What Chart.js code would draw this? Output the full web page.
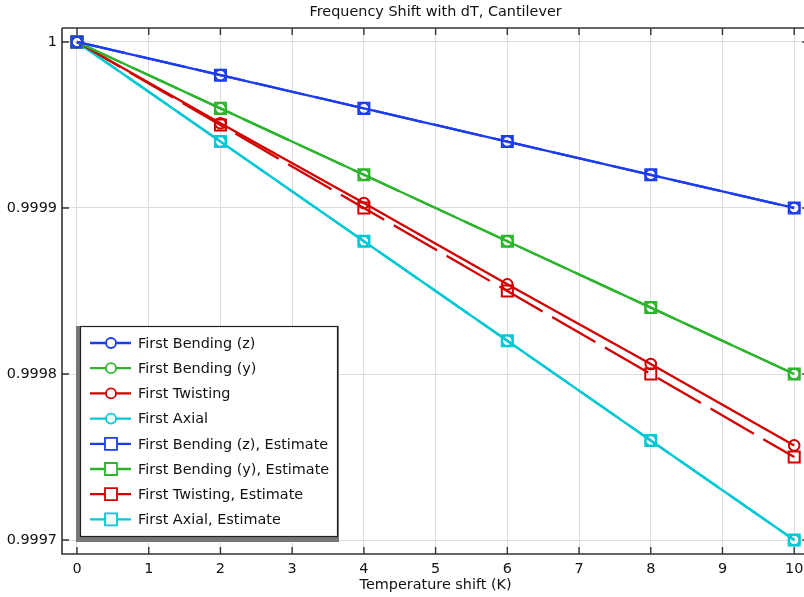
<!DOCTYPE html>
<html lang="en">
<head>
    <meta charset="UTF-8">
    <title>Frequency Shift with dT, Cantilever</title>
    <style>
        html, body {
            margin: 0;
            padding: 0;
            background: #fff;
            overflow: hidden;
        }
        #wrap {
            width: 819px;
            height: 597px;
        }
    </style>
</head>
<body>
    <div id="wrap">
        <canvas id="freqChart" width="819" height="597"></canvas>
    </div>

    <script src="https://cdn.jsdelivr.net/npm/chart.js"></script>
    <script>
        // Data
        const temps = [0, 2, 4, 6, 8, 10];
        const bendZ = [1, 0.99998, 0.99996, 0.99994, 0.99992, 0.9999];
        const bendY = [1, 0.99996, 0.99992, 0.99988, 0.99984, 0.9998];
        const twist = [1, 0.999951, 0.999903, 0.999854, 0.999806, 0.999757];
        const axial = [1, 0.99994, 0.99988, 0.99982, 0.99976, 0.9997];
        const bendZEst = [1, 0.99998, 0.99996, 0.99994, 0.99992, 0.9999];
        const bendYEst = [1, 0.99996, 0.99992, 0.99988, 0.99984, 0.9998];
        const twistEst = [1, 0.99995, 0.9999, 0.99985, 0.9998, 0.99975];
        const axialEst = [1, 0.99994, 0.99988, 0.99982, 0.99976, 0.9997];

        const xTicks = [0, 1, 2, 3, 4, 5, 6, 7, 8, 9, 10];
        const yTicks = [0.9997, 0.9998, 0.9999, 1];
        const yTickLabels = ['0.9997', '0.9998', '0.9999', '1'];

        const BLUE = 'rgb(28,60,242)';
        const GREEN = 'rgb(44,180,44)';
        const RED = 'rgb(210,0,0)';
        const CYAN = 'rgb(0,200,212)';
        const FONT = '"DejaVu Sans", sans-serif';

        function pts(ys) {
            return temps.map((t, i) => ({ x: t, y: ys[i] }));
        }

        function series(label, ys, color, estimate) {
            return {
                label: label,
                data: pts(ys),
                borderColor: color,
                backgroundColor: 'rgba(0,0,0,0)',
                borderWidth: 2.3,
                borderDash: estimate ? [50, 11] : [],
                pointStyle: estimate ? 'rect' : 'circle',
                pointRadius: estimate ? 7.8 : 5.3,
                pointBorderWidth: 2,
                pointBorderColor: color,
                pointBackgroundColor: 'rgba(0,0,0,0)',
                tension: 0
            };
        }

        // frame, inward ticks, title and legend box
        const decorations = {
            id: 'decorations',
            afterDatasetsDraw(chart) {
                const ctx = chart.ctx;
                const a = chart.chartArea;
                const xs = chart.scales.x;
                const ys = chart.scales.y;
                ctx.save();

                ctx.strokeStyle = '#333';
                ctx.lineWidth = 1.6;
                ctx.beginPath();
                ctx.moveTo(a.left, a.top);
                ctx.lineTo(a.right, a.top);
                ctx.moveTo(a.left, a.top);
                ctx.lineTo(a.left, a.bottom);
                ctx.lineTo(a.right, a.bottom);
                ctx.stroke();

                ctx.lineWidth = 1.4;
                ctx.beginPath();
                xTicks.forEach(v => {
                    const px = xs.getPixelForValue(v);
                    ctx.moveTo(px, a.bottom);
                    ctx.lineTo(px, a.bottom - 7);
                    ctx.moveTo(px, a.top);
                    ctx.lineTo(px, a.top + 7);
                });
                yTicks.forEach(v => {
                    const py = ys.getPixelForValue(v);
                    ctx.moveTo(a.left, py);
                    ctx.lineTo(a.left + 7, py);
                    ctx.moveTo(a.right, py);
                    ctx.lineTo(a.right - 7, py);
                });
                ctx.stroke();

                // titles
                ctx.fillStyle = '#111';
                ctx.font = '14.4px ' + FONT;
                ctx.textAlign = 'center';
                ctx.textBaseline = 'middle';
                ctx.fillText('Frequency Shift with dT, Cantilever', (a.left + a.right) / 2, 12);
                ctx.fillText('Temperature shift (K)', (a.left + a.right) / 2, 585);

                // legend
                const lx = 80, ly = 326, lw = 258, lh = 211;
                ctx.fillStyle = '#777';
                ctx.fillRect(lx - 4, ly, lw + 1 + 4, lh + 5);
                ctx.fillStyle = '#fff';
                ctx.fillRect(lx, ly, lw, lh);
                ctx.strokeStyle = '#222';
                ctx.lineWidth = 1.2;
                ctx.strokeRect(lx + 0.5, ly + 0.5, lw - 1, lh - 1);

                ctx.textAlign = 'left';
                chart.data.datasets.forEach((ds, i) => {
                    const cy = 343 + i * 25.2;
                    ctx.strokeStyle = ds.borderColor;
                    ctx.lineWidth = 2.3;
                    ctx.beginPath();
                    ctx.moveTo(90, cy);
                    ctx.lineTo(131, cy);
                    ctx.stroke();
                    ctx.fillStyle = '#fff';
                    ctx.lineWidth = 1.8;
                    ctx.beginPath();
                    if (ds.pointStyle === 'rect') {
                        ctx.rect(111 - 6, cy - 6, 12, 12);
                    } else {
                        ctx.arc(111, cy, 5, 0, Math.PI * 2);
                    }
                    ctx.fill();
                    ctx.stroke();
                    ctx.fillStyle = '#111';
                    ctx.fillText(ds.label, 138, cy + 1);
                });
                ctx.restore();
            }
        };

        new Chart(document.getElementById('freqChart'), {
            type: 'line',
            data: {
                datasets: [
                    series('First Bending (z)', bendZ, BLUE, false),
                    series('First Bending (y)', bendY, GREEN, false),
                    series('First Twisting', twist, RED, false),
                    series('First Axial', axial, CYAN, false),
                    series('First Bending (z), Estimate', bendZEst, BLUE, true),
                    series('First Bending (y), Estimate', bendYEst, GREEN, true),
                    series('First Twisting, Estimate', twistEst, RED, true),
                    series('First Axial, Estimate', axialEst, CYAN, true)
                ]
            },
            options: {
                responsive: false,
                animation: false,
                layout: { padding: { top: 28, left: 0, right: 3, bottom: 0 } },
                plugins: {
                    legend: { display: false },
                    title: { display: false },
                    tooltip: { enabled: false }
                },
                scales: {
                    x: {
                        type: 'linear',
                        min: -0.209,
                        max: 10.209,
                        afterFit: s => { s.height = 43; s.paddingLeft = 0; s.paddingRight = 0; },
                        afterBuildTicks: s => { s.ticks = xTicks.map(v => ({ value: v })); },
                        grid: { color: '#dedede', lineWidth: 1, drawTicks: false },
                        border: { display: false },
                        ticks: {
                            padding: 7,
                            color: '#111',
                            font: { family: FONT, size: 14.4 },
                            callback: v => String(v)
                        }
                    },
                    y: {
                        type: 'linear',
                        min: 0.9996916,
                        max: 1.0000084,
                        afterFit: s => { s.width = 62; s.paddingTop = 0; s.paddingBottom = 0; },
                        afterBuildTicks: s => { s.ticks = yTicks.map(v => ({ value: v })); },
                        grid: { color: '#dedede', lineWidth: 1, drawTicks: false },
                        border: { display: false },
                        ticks: {
                            padding: 5,
                            color: '#111',
                            font: { family: FONT, size: 14.4 },
                            callback: (v, i) => yTickLabels[i]
                        }
                    }
                }
            },
            plugins: [decorations]
        });
    </script>
</body>
</html>
